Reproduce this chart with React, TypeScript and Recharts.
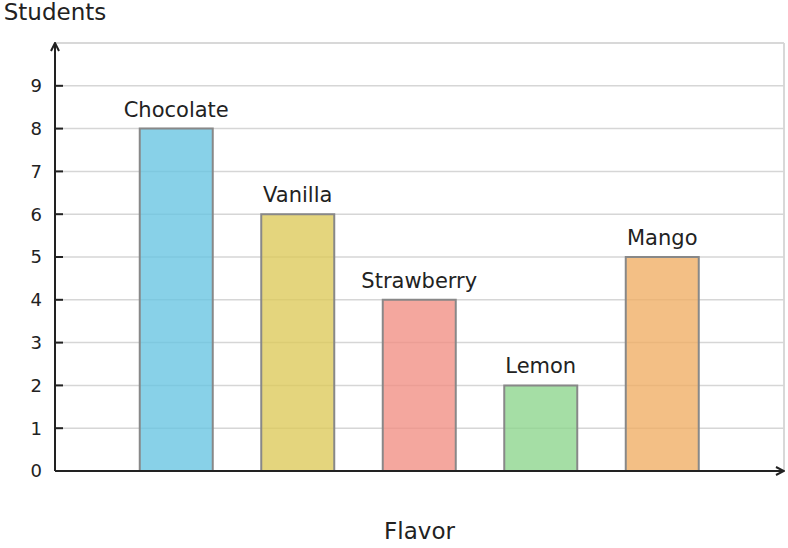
import { BarChart, Bar, XAxis, YAxis, CartesianGrid, LabelList, Label, ReferenceLine, Cell } from 'recharts';

const flavors = ['Chocolate', 'Vanilla', 'Strawberry', 'Lemon', 'Mango'];
const students = [8, 6, 4, 2, 5];
const barColors = ['#66C4E2', '#DDC959', '#F18E83', '#8CD58C', '#F0AD63'];
const yTicks = [0, 1, 2, 3, 4, 5, 6, 7, 8, 9];
const xTicks = [1, 2, 3, 4, 5];

const data = flavors.map((flavor, i) => ({ pos: i + 1, flavor, students: students[i] }));

const FONT = '"DejaVu Sans", sans-serif';
const INK = '#222222';

export default function App() {
  return (
    <div style={{ position: 'absolute', left: 0, top: 0, width: 788, height: 548, background: '#fff' }}>
      <BarChart
        width={788}
        height={548}
        data={data}
        margin={{ top: 43, right: 4, left: 0, bottom: 0 }}
        style={{ fontFamily: FONT }}
      >
        <defs>
          <marker
            id="arrow"
            viewBox="0 0 10 10"
            refX="9"
            refY="5"
            markerWidth="10"
            markerHeight="10"
            markerUnits="userSpaceOnUse"
            orient="auto-start-reverse"
          >
            <path d="M1,1 L9,5 L1,9" fill="none" stroke={INK} strokeWidth={2} />
          </marker>
        </defs>
        <CartesianGrid stroke="#d6d6d6" strokeWidth={1.5} />
        <ReferenceLine y={10} stroke="#d6d6d6" strokeWidth={1.5} />
        <ReferenceLine x={6} stroke="#d6d6d6" strokeWidth={1.5} />
        <XAxis
          type="number"
          dataKey="pos"
          domain={[0, 6]}
          ticks={xTicks}
          height={77}
          tick={false}
          tickSize={-4}
          tickLine={{ stroke: '#666', strokeWidth: 2 }}
          axisLine={{ stroke: INK, strokeWidth: 2, markerEnd: 'url(#arrow)' }}
        >
          <Label
            content={({ viewBox }: any) => (
              <text
                x={viewBox.x + viewBox.width / 2}
                y={539}
                textAnchor="middle"
                fill={INK}
                fontSize={23}
                fontFamily={FONT}
              >
                Flavor
              </text>
            )}
          />
        </XAxis>
        <YAxis
          type="number"
          domain={[0, 10]}
          ticks={yTicks}
          width={55}
          tickSize={-8}
          tickMargin={21}
          tick={{ fill: INK, fontSize: 18, fontFamily: FONT }}
          tickLine={{ stroke: INK, strokeWidth: 2 }}
          axisLine={{ stroke: INK, strokeWidth: 2, markerStart: 'url(#arrow)' }}
        >
          <Label
            content={({ viewBox }: any) => (
              <text
                x={viewBox.x + viewBox.width}
                y={20}
                textAnchor="middle"
                fill={INK}
                fontSize={23}
                fontFamily={FONT}
              >
                Students
              </text>
            )}
          />
        </YAxis>
        <Bar dataKey="students" barSize={73} stroke="#888888" strokeWidth={2} fillOpacity={0.78} isAnimationActive={false}>
          {data.map((d, i) => (
            <Cell key={d.flavor} fill={barColors[i]} />
          ))}
          <LabelList dataKey="flavor" position="top" offset={12} fill={INK} fontSize={21} fontFamily={FONT} />
        </Bar>
      </BarChart>
    </div>
  );
}
